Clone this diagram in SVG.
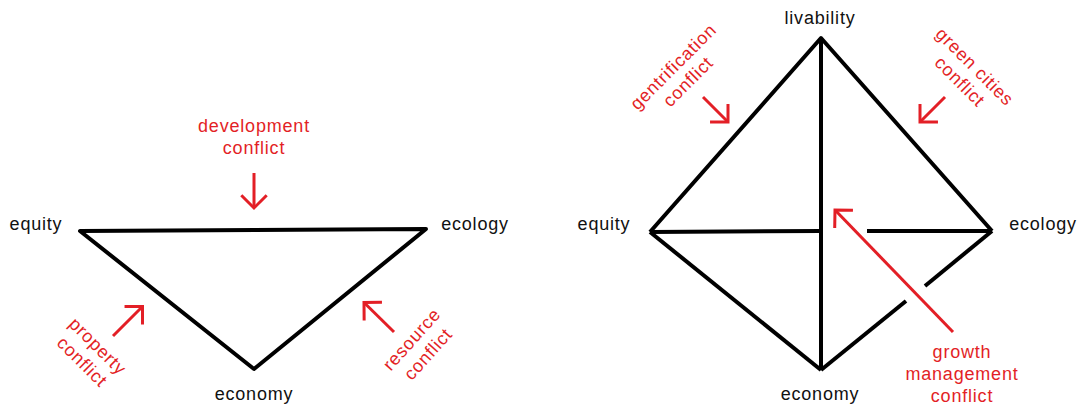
<svg xmlns="http://www.w3.org/2000/svg" width="1081" height="407" viewBox="0 0 1081 407">
<style>
  .lbl { font-family: "Liberation Sans", Arial, sans-serif; font-size: 18px; letter-spacing: 0.8px; fill: #111; text-anchor: middle; }
  .red { font-family: "Liberation Sans", Arial, sans-serif; font-size: 18px; letter-spacing: 0.8px; fill: #e31f26; text-anchor: middle; }
  .edge { stroke: #000; stroke-width: 4; fill: none; stroke-linejoin: round; stroke-linecap: butt; }
  .arr { stroke: #e31f26; stroke-width: 3; fill: none; marker-end: url(#chev); }
</style>
<defs>
  <marker id="chev" viewBox="-16 -16 20 32" refX="0" refY="0" markerWidth="20" markerHeight="32" markerUnits="userSpaceOnUse" orient="auto">
    <path d="M-12.7,-12.7 L0,0 L-12.7,12.7" fill="none" stroke="#e31f26" stroke-width="3" stroke-linejoin="miter"/>
  </marker>
</defs>
<rect width="1081" height="407" fill="#fff"/>

<g id="connectors">
  <!-- left triangle -->
  <path class="edge" d="M80,231 L426,229 L254,369 Z"/>
  <!-- right diamond -->
  <path class="edge" d="M650,232 L821,38 L992,231"/>
  <path class="edge" d="M650,232 L821,370"/>
  <path class="edge" d="M821,38 L821,370"/>
  <path class="edge" d="M650,232 L821,231"/>
  <path class="edge" d="M867,231 L992,231"/>
  <path class="edge" d="M992,231 L925,286"/>
  <path class="edge" d="M906,301 L821,370"/>
  <!-- conflict arrows -->
  <line class="arr" x1="254" y1="173" x2="254" y2="208"/>
  <line class="arr" x1="113" y1="336" x2="142.5" y2="306.5"/>
  <line class="arr" x1="394" y1="332" x2="364" y2="302.5"/>
  <line class="arr" x1="703" y1="97" x2="728" y2="122"/>
  <line class="arr" x1="945" y1="97" x2="920" y2="122"/>
  <line class="arr" x1="953" y1="332" x2="835" y2="210"/>
</g>

<g id="left-equity"><text class="lbl" x="36" y="230">equity</text></g>
<g id="left-ecology"><text class="lbl" x="475" y="230">ecology</text></g>
<g id="left-economy"><text class="lbl" x="254" y="400">economy</text></g>

<g id="development-conflict">
  <text class="red" x="254" y="132">development</text>
  <text class="red" x="254" y="154">conflict</text>
</g>
<g id="property-conflict" transform="translate(97,347) rotate(45)">
  <text class="red" x="0" y="5">property</text>
  <text class="red" x="0" y="27">conflict</text>
</g>
<g id="resource-conflict" transform="translate(412.5,340) rotate(-48)">
  <text class="red" x="0" y="5">resource</text>
  <text class="red" x="0" y="27">conflict</text>
</g>

<g id="right-livability"><text class="lbl" x="820" y="24">livability</text></g>
<g id="right-equity"><text class="lbl" x="604" y="230">equity</text></g>
<g id="right-ecology"><text class="lbl" x="1043" y="230">ecology</text></g>
<g id="right-economy"><text class="lbl" x="820" y="400">economy</text></g>

<g id="gentrification-conflict" transform="translate(674,67.5) rotate(-45)">
  <text class="red" x="0" y="5">gentrification</text>
  <text class="red" x="0" y="26">conflict</text>
</g>
<g id="green-cities-conflict" transform="translate(974,67.5) rotate(45)">
  <text class="red" x="0" y="5">green cities</text>
  <text class="red" x="0" y="26">conflict</text>
</g>
<g id="growth-management-conflict">
  <text class="red" x="962" y="358">growth</text>
  <text class="red" x="962" y="380">management</text>
  <text class="red" x="962" y="402">conflict</text>
</g>
</svg>
